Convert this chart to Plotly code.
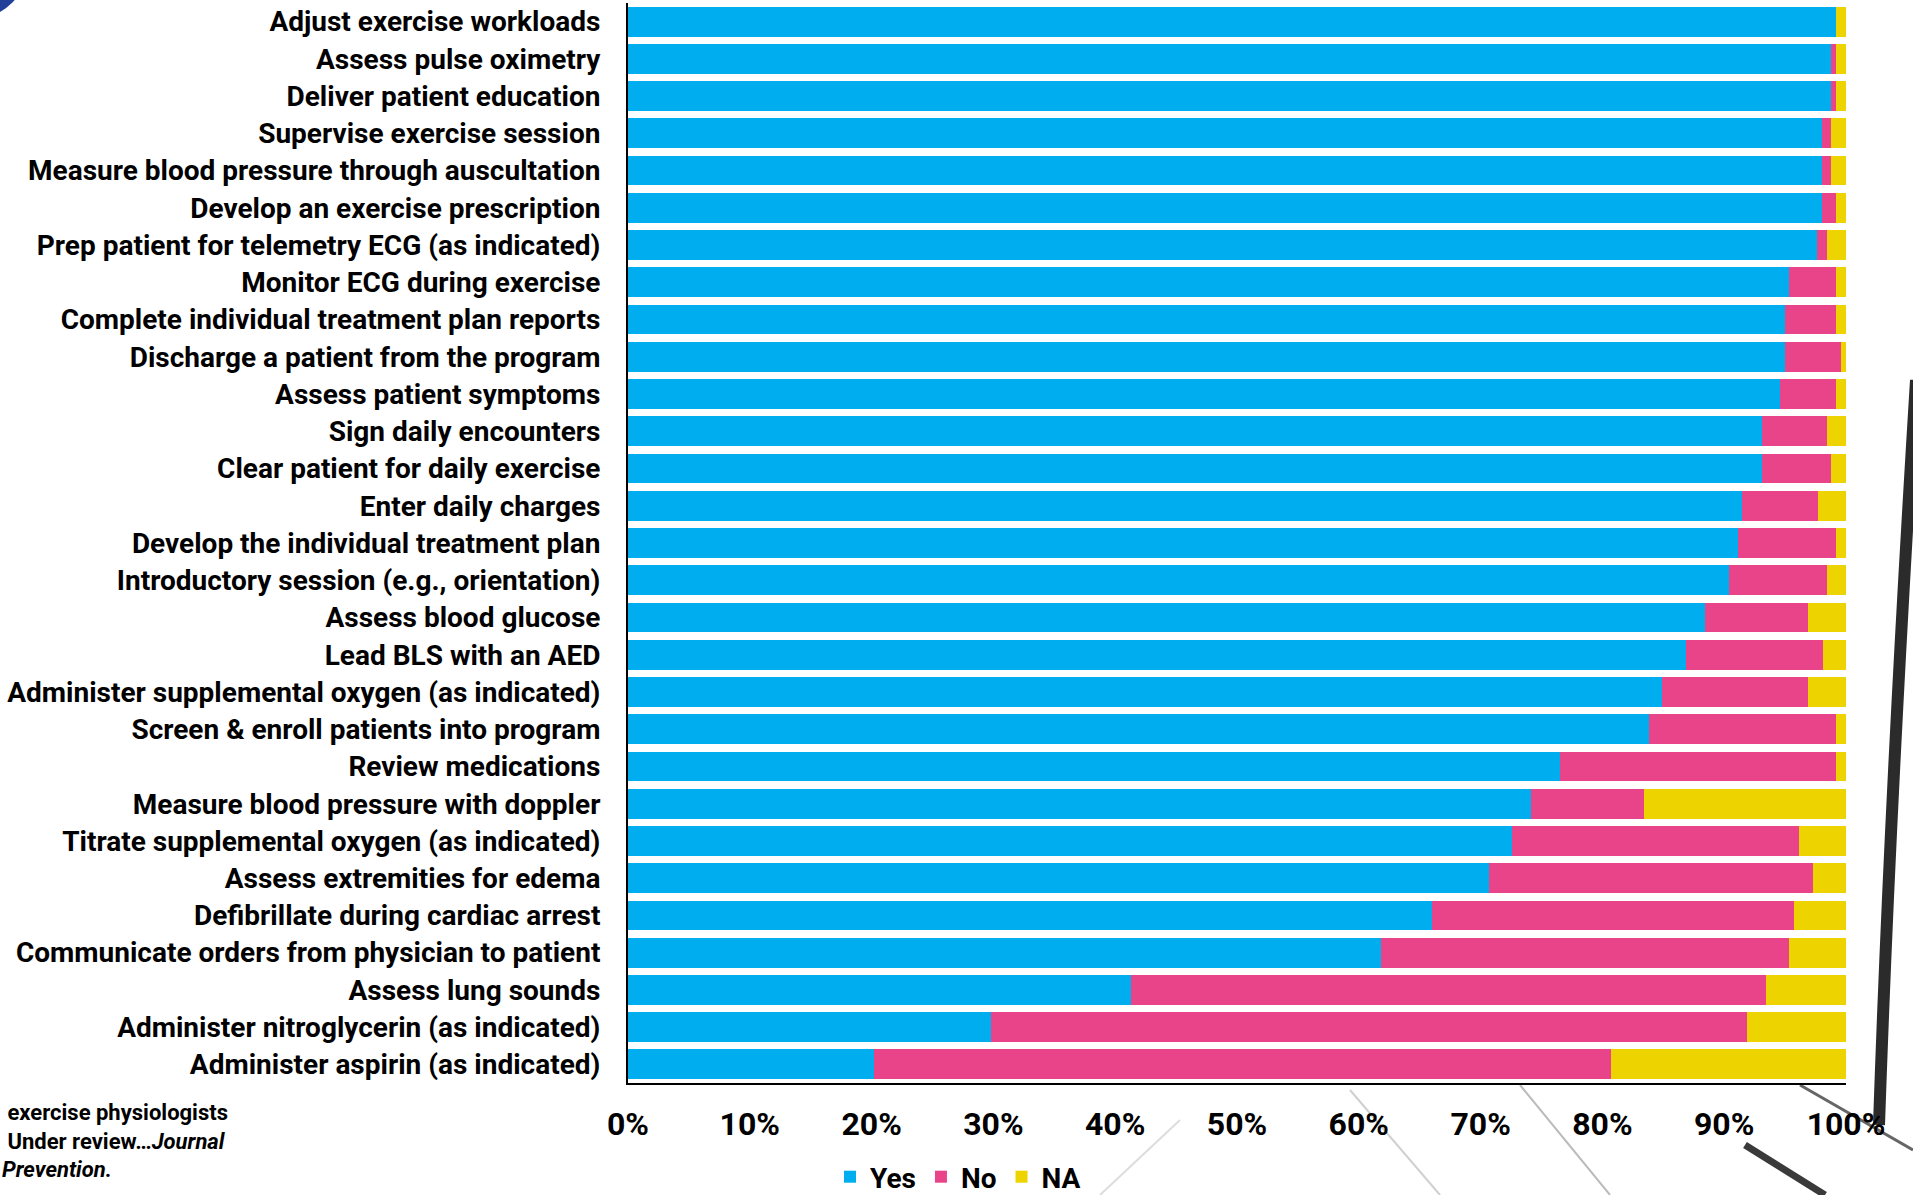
import plotly.graph_objects as go

categories = [
    "Adjust exercise workloads",
    "Assess pulse oximetry",
    "Deliver patient education",
    "Supervise exercise session",
    "Measure blood pressure through auscultation",
    "Develop an exercise prescription",
    "Prep patient for telemetry ECG (as indicated)",
    "Monitor ECG during exercise",
    "Complete individual treatment plan reports",
    "Discharge a patient from the program",
    "Assess patient symptoms",
    "Sign daily encounters",
    "Clear patient for daily exercise",
    "Enter daily charges",
    "Develop the individual treatment plan",
    "Introductory session (e.g., orientation)",
    "Assess blood glucose",
    "Lead BLS with an AED",
    "Administer supplemental oxygen (as indicated)",
    "Screen & enroll patients into program",
    "Review medications",
    "Measure blood pressure with doppler",
    "Titrate supplemental oxygen (as indicated)",
    "Assess extremities for edema",
    "Defibrillate during cardiac arrest",
    "Communicate orders from physician to patient",
    "Assess lung sounds",
    "Administer nitroglycerin (as indicated)",
    "Administer aspirin (as indicated)",
]

yes_pct = [99.2, 98.8, 98.8, 98.0, 98.0, 98.0, 97.6, 95.3, 95.0, 95.0, 94.6,
           93.1, 93.1, 91.5, 91.1, 90.4, 88.4, 86.9, 84.9, 83.8, 76.5,
           74.1, 72.6, 70.7, 66.0, 61.8, 41.3, 29.8, 20.2]
no_pct = [0.0, 0.4, 0.4, 0.8, 0.8, 1.2, 0.8, 3.9, 4.2, 4.6, 4.6,
          5.3, 5.7, 6.2, 8.1, 8.0, 8.5, 11.2, 12.0, 15.4, 22.7,
          9.3, 23.5, 26.6, 29.7, 33.5, 52.1, 62.1, 60.5]
na_pct = [0.8, 0.8, 0.8, 1.2, 1.2, 0.8, 1.6, 0.8, 0.8, 0.4, 0.8,
          1.6, 1.2, 2.3, 0.8, 1.6, 3.1, 1.9, 3.1, 0.8, 0.8,
          16.6, 3.9, 2.7, 4.3, 4.7, 6.6, 8.1, 19.3]

tick_vals = [0, 10, 20, 30, 40, 50, 60, 70, 80, 90, 100]
tick_text = ["0%", "10%", "20%", "30%", "40%", "50%", "60%", "70%", "80%", "90%", "100%"]

series = [("Yes", yes_pct, "#00AEEF"), ("No", no_pct, "#E9438A"), ("NA", na_pct, "#EDD400")]

W, H = 1913, 1195
L, R, T, B = 628, 67, 3, 112
PW, PH = W - L - R, H - T - B


def px(x):
    return (x - L) / PW


def py(y):
    return 1 - (y - T) / PH


fig = go.Figure()
for name, vals, color in series:
    fig.add_trace(go.Bar(
        y=categories, x=vals, name=name, orientation="h",
        marker=dict(color=color, line=dict(width=0)),
    ))

font_main = "Roboto, 'Liberation Sans', Arial, sans-serif"

shapes = [
    # decorative background strokes (sketch behind the slide)
    dict(type="path", xref="paper", yref="paper",
         path=f"M {px(1916)},{py(380)} Q {px(1890)},{py(800)} {px(1879)},{py(1125)}",
         line=dict(color="#2b2b2b", width=12), layer="below"),
    dict(type="line", xref="paper", yref="paper", x0=px(1745), y0=py(1145), x1=px(1825), y1=py(1195),
         line=dict(color="#3a3a3a", width=7), layer="below"),
    dict(type="line", xref="paper", yref="paper", x0=px(1800), y0=py(1085), x1=px(1913), y1=py(1150),
         line=dict(color="#666666", width=3), layer="below"),
    dict(type="line", xref="paper", yref="paper", x0=px(1520), y0=py(1085), x1=px(1610), y1=py(1195),
         line=dict(color="#bbbbbb", width=2), layer="below"),
    dict(type="line", xref="paper", yref="paper", x0=px(1350), y0=py(1090), x1=px(1440), y1=py(1195),
         line=dict(color="#d0d0d0", width=2), layer="below"),
    dict(type="line", xref="paper", yref="paper", x0=px(1100), y0=py(1195), x1=px(1180), y1=py(1120),
         line=dict(color="#dddddd", width=2), layer="below"),
    # navy circle in top-left corner
    dict(type="circle", xref="paper", yref="paper", x0=px(-90), x1=px(30), y0=py(20), y1=py(-100),
         fillcolor="#22409A", line=dict(width=0)),
]

fig.update_layout(
    width=W, height=H,
    barmode="stack", bargap=0.2,
    paper_bgcolor="white", plot_bgcolor="rgba(0,0,0,0)",
    margin=dict(l=L, r=R, t=T, b=B, autoexpand=False),
    font=dict(family=font_main, color="black"),
    showlegend=True,
    legend=dict(orientation="h", x=px(958), xanchor="center", y=py(1177), yanchor="middle",
                font=dict(size=28, family=font_main, weight="bold"),
                itemwidth=30, traceorder="normal", bgcolor="rgba(0,0,0,0)"),
    shapes=shapes,
    annotations=[dict(
        xref="paper", yref="paper", x=px(0), y=py(1098), xanchor="left", yanchor="top",
        align="left", showarrow=False,
        text=" exercise physiologists<br> Under review…<i>Journal</i><br><i>Prevention.</i>",
        font=dict(size=22, family=font_main, weight="bold", color="black"),
    )],
)

fig.update_xaxes(
    range=[0, 100], tickvals=tick_vals, ticktext=tick_text,
    showgrid=False, zeroline=False, showline=True, linecolor="black", linewidth=2,
    ticks="", ticklabelstandoff=12,
    tickfont=dict(size=32, family=font_main, weight="bold"),
)
fig.update_yaxes(
    autorange="reversed", showgrid=False, showline=True, linecolor="black", linewidth=2,
    ticks="", ticklabelstandoff=20,
    tickfont=dict(size=28, family=font_main, weight="bold"),
)

fig.write_html("out.html", config={"displayModeBar": False},
               post_script="document.body.style.margin='0';document.body.style.overflow='hidden';")
